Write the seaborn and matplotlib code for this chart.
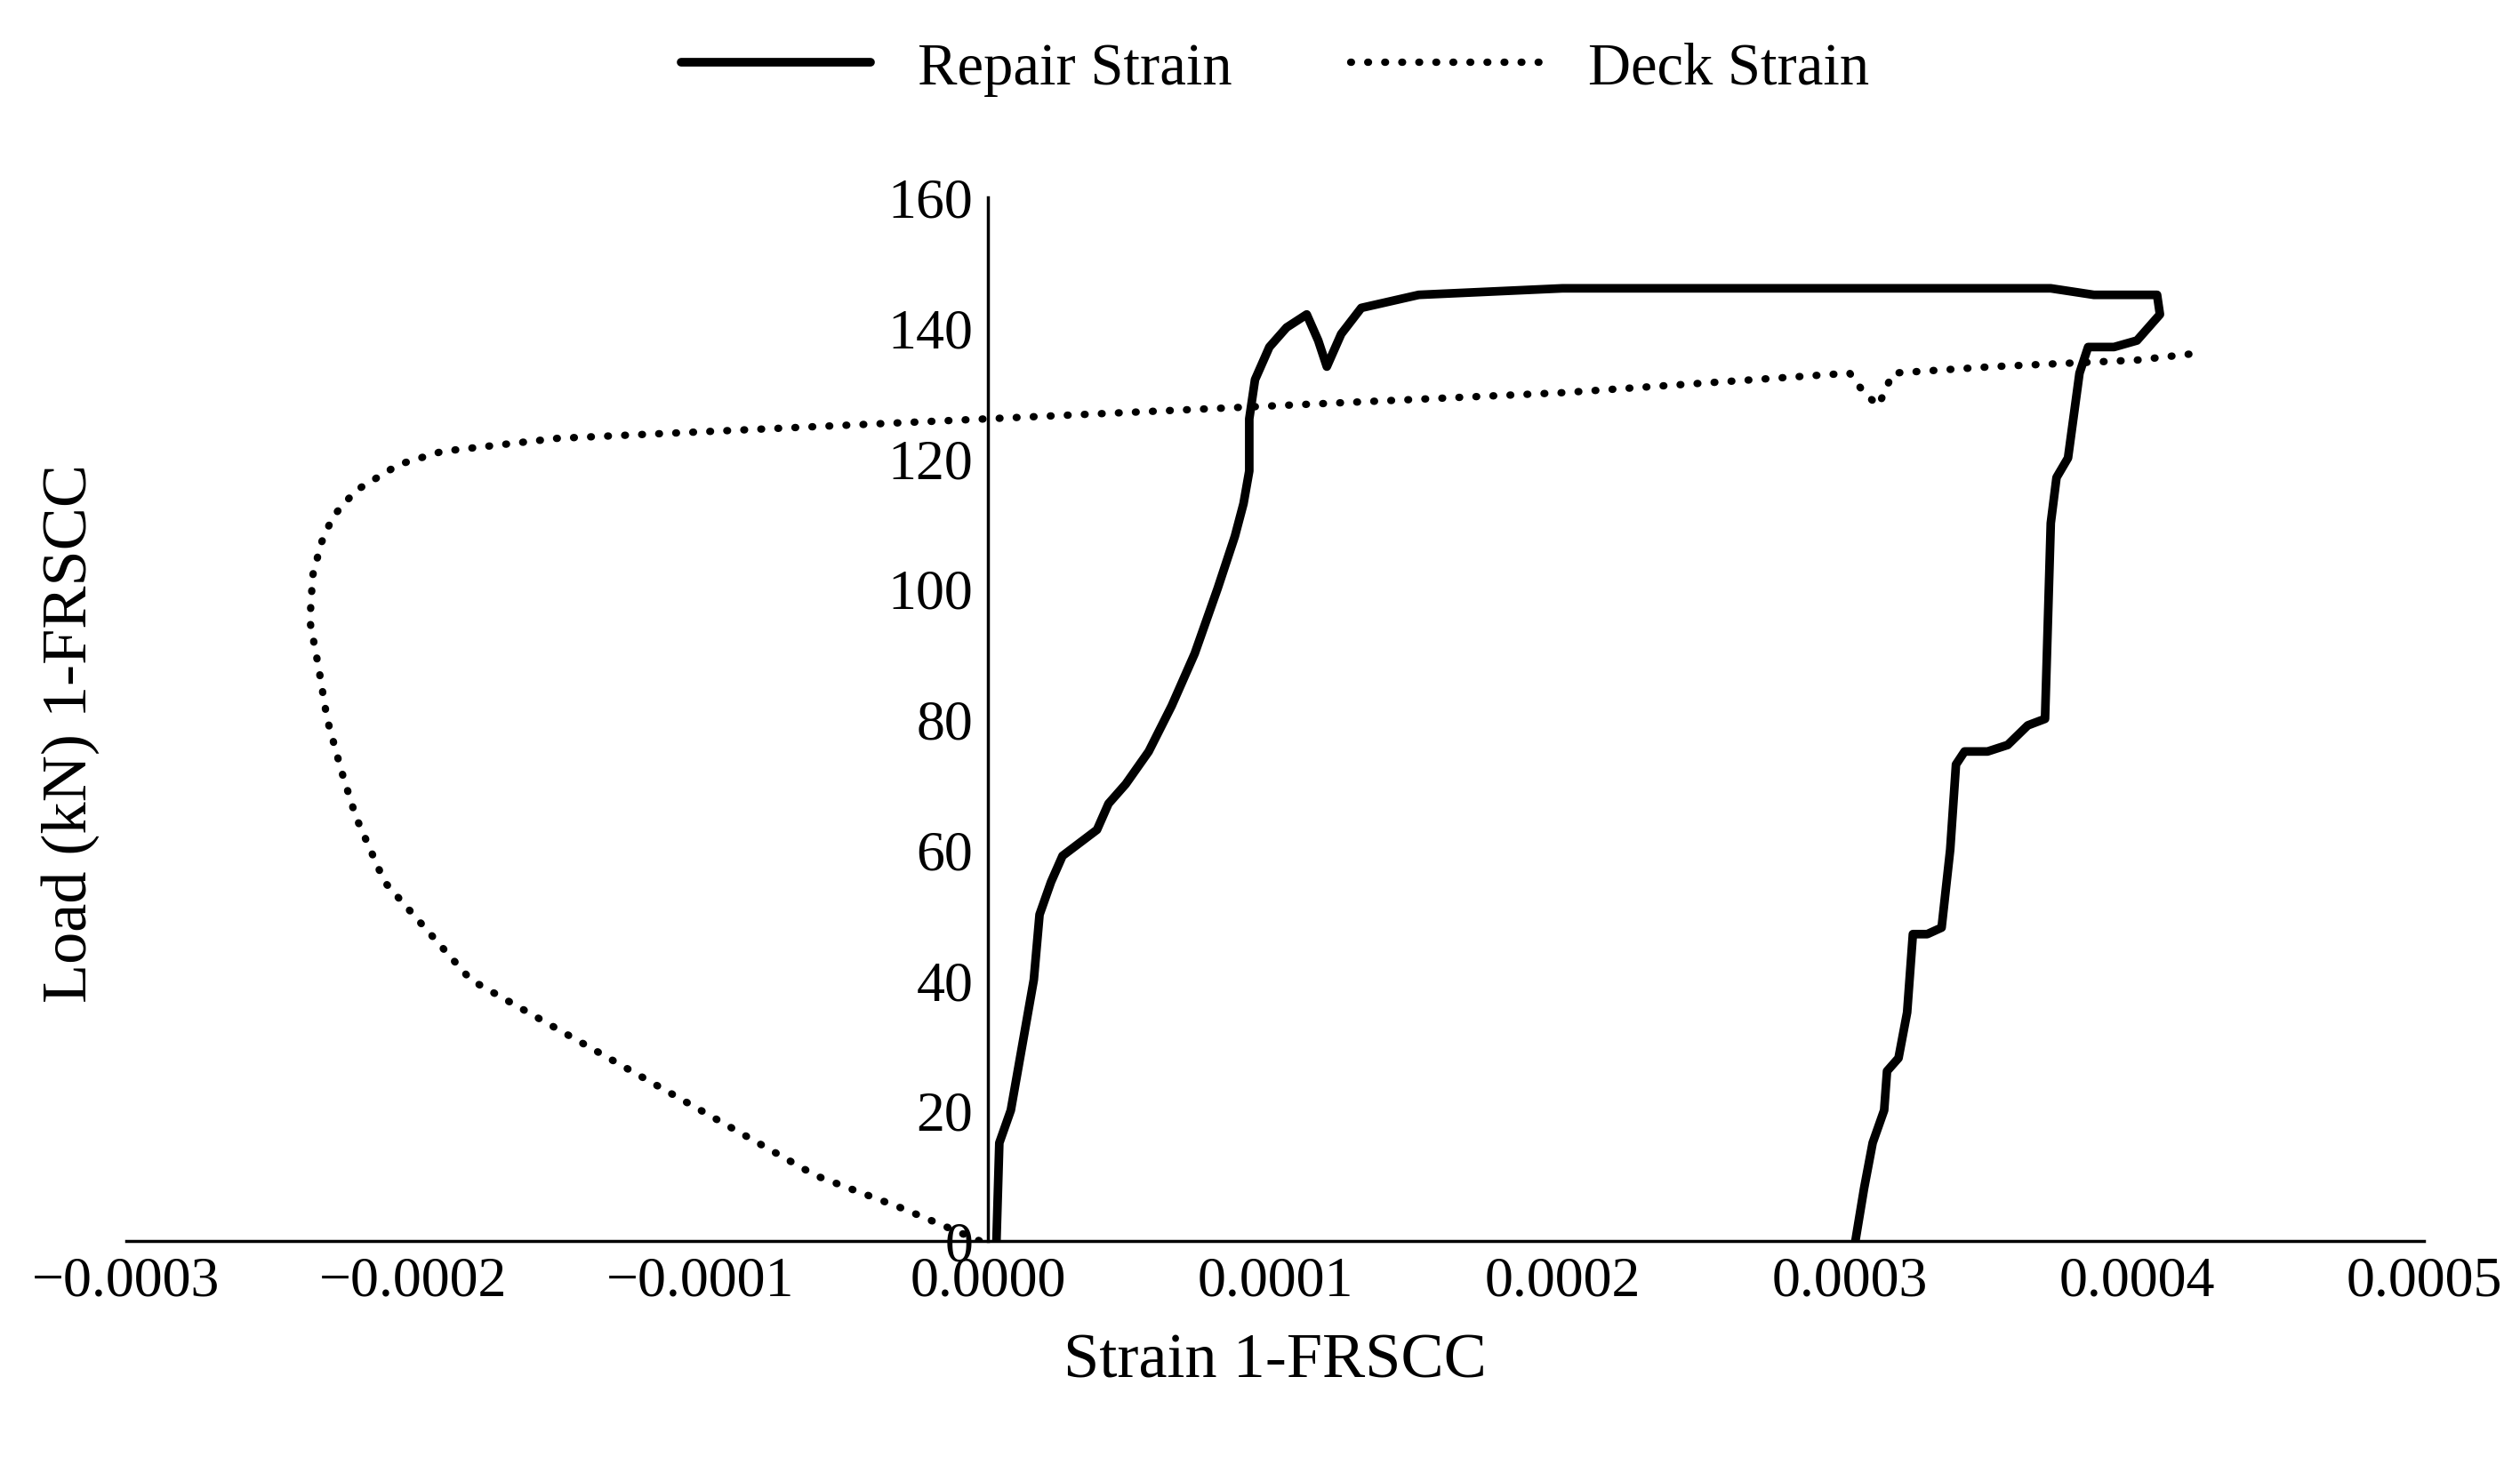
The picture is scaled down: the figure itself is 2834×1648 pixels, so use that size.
import numpy as np
import matplotlib.pyplot as plt
import seaborn as sns
import pandas as pd

# Repair strain (strain, load kN)
repair_x = [0.000003, 0.000004, 0.000008, 0.000012, 0.000016, 0.000018, 0.000022, 0.000026,
            0.000032, 0.000038, 0.000042, 0.000048, 0.000056, 0.000064, 0.000072, 0.000080,
            0.000086, 0.000089, 0.000091, 0.000091, 0.000093, 0.000098, 0.000104, 0.000111,
            0.000115, 0.000118, 0.000123, 0.000130, 0.000150, 0.000200, 0.000300, 0.000370,
            0.000385, 0.000407, 0.000408, 0.000400, 0.000392, 0.000383, 0.000380, 0.000376,
            0.000372, 0.000370, 0.000369, 0.000368, 0.000362, 0.000355, 0.000348, 0.000340,
            0.000337, 0.000335, 0.000332, 0.000327, 0.000322, 0.000320, 0.000317, 0.000313,
            0.000312, 0.000308, 0.000305, 0.000302]
repair_y = [0, 15, 20, 30, 40, 50, 55, 59, 61, 63, 67, 70, 75, 82, 90, 100, 108, 113, 118, 126,
            132, 137, 140, 142, 138, 134, 139, 143, 145, 146, 146, 146, 145, 145, 142, 138,
            137, 137, 133, 120, 117, 110, 95, 80, 79, 76, 75, 75, 73, 60, 48, 47, 47, 35,
            28, 26, 20, 15, 8, 0]

# Deck strain
deck_x = [-0.000003, -0.00003, -0.00006, -0.00008, -0.0001, -0.00012, -0.00014, -0.00016,
          -0.00018, -0.00019, -0.0002, -0.00021, -0.000215, -0.00022, -0.000225, -0.00023,
          -0.000233, -0.000236, -0.000235, -0.000232, -0.000228, -0.00022, -0.000205,
          -0.00019, -0.00015, -0.0001, -0.00005, 0.0, 0.0001, 0.0002, 0.0003, 0.000305,
          0.00031, 0.000315, 0.00035, 0.0004, 0.00042]
deck_y = [0, 5, 10, 15, 20, 25, 30, 35, 40, 45, 50, 55, 60, 65, 72, 80, 88, 95, 102, 107, 111,
          115, 119, 121, 123, 124, 125, 126, 128, 130, 133, 130, 128, 133, 134, 135, 136]

sns.set_style("white")
plt.rcParams['font.family'] = ['Liberation Serif', 'DejaVu Serif']
plt.rcParams['text.color'] = 'black'
plt.rcParams['axes.labelcolor'] = 'black'
plt.rcParams['xtick.color'] = 'black'
plt.rcParams['ytick.color'] = 'black'

fig, ax = plt.subplots(figsize=(28.34, 16.49), dpi=100)
fig.subplots_adjust(left=0.05, right=0.962, top=0.865, bottom=0.153)

sns.lineplot(data=pd.DataFrame({'x': repair_x, 'y': repair_y}), x='x', y='y', sort=False,
             estimator=None, errorbar=None, ax=ax, color='black', lw=7, label='Repair Strain')
sns.lineplot(data=pd.DataFrame({'x': deck_x, 'y': deck_y}), x='x', y='y', sort=False,
             estimator=None, errorbar=None, ax=ax, color='black', lw=6,
             linestyle=(0, (0.1, 2.2)), dash_capstyle='round', label='Deck Strain')

ax.set_xlim(-0.0003, 0.0005)
ax.set_ylim(0, 160)
ax.set_xticks(np.arange(-0.0003, 0.00051, 0.0001))
ax.set_xticklabels(['\u22120.0003', '\u22120.0002', '\u22120.0001', '0.0000', '0.0001',
                    '0.0002', '0.0003', '0.0004', '0.0005'])
ax.set_yticks(np.arange(0, 161, 20))
ax.spines['left'].set_position(('data', 0))
ax.spines['bottom'].set_position(('data', 0))
ax.spines['top'].set_visible(False)
ax.spines['right'].set_visible(False)
for s in ['left', 'bottom']:
    ax.spines[s].set_linewidth(2.5)
    ax.spines[s].set_color('black')
ax.tick_params(axis='both', labelsize=46, length=0, pad=12)
ax.set_xlabel('Strain 1-FRSCC', fontsize=52, labelpad=20)
ax.set_ylabel('')
fig.text(0.028, 0.5, 'Load (kN) 1-FRSCC', rotation=90, fontsize=52, va='center', ha='center')
ax.legend(loc='upper center', bbox_to_anchor=(0.5, 1.2), ncol=2, frameon=False,
          fontsize=48, handlelength=3.2, columnspacing=2.0)

fig.savefig('out.png', dpi=100)
